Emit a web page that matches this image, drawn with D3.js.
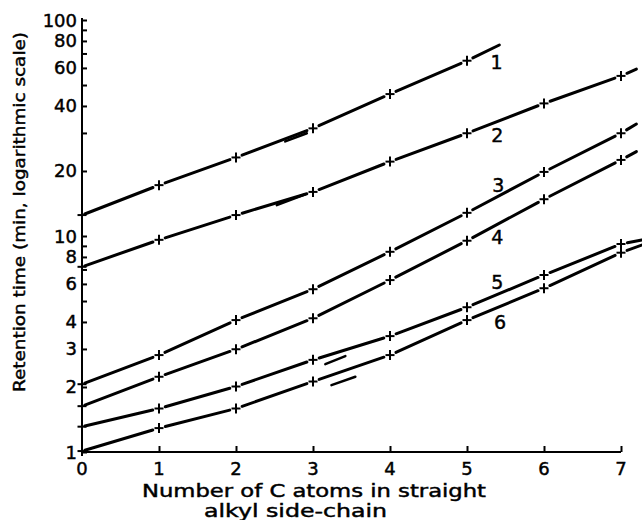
<!DOCTYPE html>
<html>
<head>
<meta charset="utf-8">
<script src="https://cdn.jsdelivr.net/npm/d3@7"></script>
<style>
  html, body { margin: 0; padding: 0; background: #fff; }
  svg { display: block; }
  text { font-family: "DejaVu Sans", sans-serif; fill: #000; stroke: #000; stroke-width: 0.45px; }
</style>
</head>
<body>
<svg id="chart" width="642" height="520"></svg>
<script>
// ---- data ----
const carbonAtoms = [0, 1, 2, 3, 4, 5, 6, 7];
const series1 = [12.5, 17.2, 23.1, 31.5, 45.4, 64.8];
const series2 = [7.2, 9.6, 12.5, 16.0, 22.1, 29.9, 41.1, 55.1];
const series3 = [2.06, 2.81, 4.08, 5.67, 8.45, 12.8, 19.8, 29.9];
const series4 = [1.63, 2.23, 2.99, 4.16, 6.25, 9.51, 14.8, 22.5];
const series5 = [1.31, 1.59, 2.01, 2.67, 3.44, 4.68, 6.6, 9.18];
const series6 = [1.01, 1.29, 1.59, 2.12, 2.81, 4.08, 5.73, 8.37];
// end of each drawn line beyond its last marker [x, value]
const lineEnds = [[5.42, 76.6], [7.2, 59.2], [7.2, 33.0], [7.2, 24.6], [7.27, 9.58], [7.27, 9.08]];
// short overlapping strokes (second run) [series index, [x, v], [x, v]]
const overlaps = [
  [0, [2.64, 27.4], [2.92, 29.9]],
  [1, [2.53, 13.9], [2.90, 15.6]],
  [4, [3.16, 2.55], [3.42, 2.78]],
  [5, [3.24, 2.04], [3.55, 2.23]]
];
const seriesLabels = ["1", "2", "3", "4", "5", "6"];
const labelAnchors = [[5.385, 64.1], [5.393, 29.35], [5.406, 17.2], [5.393, 9.93], [5.393, 6.14], [5.43, 4.01]];
const xTickValues = [0, 1, 2, 3, 4, 5, 6, 7];
const yTickValues = [1,2,3,4,5,6,7,8,9,10,20,30,40,50,60,70,80,90,100];
const yTickLabels = [1, 2, 3, 4, 6, 8, 10, 20, 40, 60, 80, 100];
const xTitle1 = "Number of C atoms in straight";
const xTitle2 = "alkyl side-chain";
const yTitle = "Retention time (min, logarithmic scale)";

// ---- drawing ----
const svg = d3.select("#chart");
const x = d3.scaleLinear().domain([0, 7]).range([82, 621]);
const y = d3.scaleLog().domain([1, 100]).range([452, 20]);

const allSeries = [series1, series2, series3, series4, series5, series6];

// Axes
const yAxis = d3.axisRight(y).tickValues(yTickValues).tickSize(5).tickFormat("");
const gy = svg.append("g").attr("transform", `translate(${x(0)},0)`).call(yAxis);
gy.select(".domain").attr("stroke", "#000").attr("stroke-width", 2)
  .attr("d", `M0,${y(100) - 2}V${y(1)}`);
gy.selectAll(".tick line").attr("stroke", "#000").attr("stroke-width", 2);

const xAxis = d3.axisTop(x).tickValues(xTickValues.filter(d => d > 0)).tickSize(6).tickFormat("");
const gx = svg.append("g").attr("transform", `translate(0,${y(1)})`).call(xAxis);
gx.select(".domain").attr("stroke", "#000").attr("stroke-width", 2)
  .attr("d", `M${x(0) - 1},0H${x(7)}`);
gx.selectAll(".tick line").attr("stroke", "#000").attr("stroke-width", 2);

// tick labels
svg.append("g").selectAll("text").data(yTickLabels).join("text")
  .attr("x", x(0) - 5).attr("y", d => y(d))
  .attr("text-anchor", "end").attr("dominant-baseline", "central")
  .attr("font-size", 18).text(d => d);

svg.append("g").selectAll("text").data(xTickValues).join("text")
  .attr("x", d => x(d)).attr("y", y(1) + 23)
  .attr("text-anchor", "middle")
  .attr("font-size", 18).text(d => d);

// axis titles
svg.append("text").attr("x", 142).attr("y", 497).attr("font-size", 17.5)
  .attr("textLength", 344).attr("lengthAdjust", "spacingAndGlyphs").text(xTitle1);
svg.append("text").attr("x", 204).attr("y", 517).attr("font-size", 17.5)
  .attr("textLength", 183).attr("lengthAdjust", "spacingAndGlyphs").text(xTitle2);
svg.append("text").attr("transform", "translate(25,212) rotate(-90)")
  .attr("text-anchor", "middle").attr("font-size", 16)
  .attr("textLength", 360).attr("lengthAdjust", "spacingAndGlyphs").text(yTitle);

// lines with gaps near markers
const gap = 6.5;
const lineG = svg.append("g").attr("stroke", "#000").attr("stroke-width", 3)
  .attr("stroke-linecap", "round").attr("fill", "none");

allSeries.forEach((vals, si) => {
  const pts = vals.map((v, i) => ({ px: x(carbonAtoms[i]), py: y(v), marker: true }));
  const e = lineEnds[si];
  pts.push({ px: x(e[0]), py: y(e[1]), marker: false });
  for (let i = 0; i < pts.length - 1; i++) {
    const a = pts[i], b = pts[i + 1];
    const dx = b.px - a.px, dy = b.py - a.py;
    const len = Math.hypot(dx, dy);
    const ux = dx / len, uy = dy / len;
    const g0 = a.marker ? (i === 0 ? 3 : gap) : 0;
    const g1 = b.marker ? gap : 0;
    lineG.append("line")
      .attr("x1", a.px + ux * g0).attr("y1", a.py + uy * g0)
      .attr("x2", b.px - ux * g1).attr("y2", b.py - uy * g1);
  }
  // markers
  const mg = svg.append("g").attr("stroke", "#000").attr("stroke-width", 2);
  pts.filter(p => p.marker).forEach(p => {
    mg.append("line").attr("x1", p.px - 4.5).attr("x2", p.px + 4.5).attr("y1", p.py).attr("y2", p.py);
    mg.append("line").attr("x1", p.px).attr("x2", p.px).attr("y1", p.py - 5).attr("y2", p.py + 5);
  });
});

overlaps.forEach(o => {
  lineG.append("line")
    .attr("x1", x(o[1][0])).attr("y1", y(o[1][1]))
    .attr("x2", x(o[2][0])).attr("y2", y(o[2][1]))
    .attr("stroke-width", 2.5);
});

// series labels
svg.append("g").selectAll("text").data(seriesLabels).join("text")
  .attr("x", (d, i) => x(labelAnchors[i][0]))
  .attr("y", (d, i) => y(labelAnchors[i][1]))
  .attr("text-anchor", "middle").attr("dominant-baseline", "central")
  .attr("font-size", 19).text(d => d);
</script>
</body>
</html>
